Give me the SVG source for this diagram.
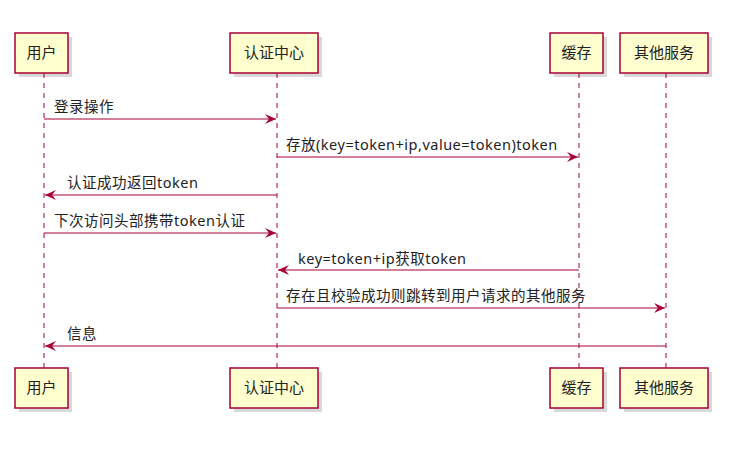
<svg xmlns="http://www.w3.org/2000/svg" width="736" height="449" viewBox="0 0 736 449">
<style>
.box{fill:#FEFECE;stroke:#A80036;stroke-width:1.5}
.sh{fill:#000;opacity:0.15}
.life{stroke:#A80036;stroke-width:1;stroke-dasharray:5,5}
.pt{font-family:"Noto Sans CJK SC",sans-serif;font-size:15px;fill:#222;text-anchor:middle}
.msg{stroke:#A80036;stroke-width:1;fill:none}
.lbl{font-family:"Noto Sans","Noto Sans CJK SC",sans-serif;font-size:14.5px;letter-spacing:0.5px;fill:#222}
</style>
<defs>
<marker id="a" markerWidth="12" markerHeight="10" refX="11" refY="5" orient="auto" markerUnits="userSpaceOnUse">
<path d="M0,0 L11,5 L0,10 L4,5 Z" fill="#A80036"/>
</marker>
</defs>
<rect width="736" height="449" fill="#fff"/>
<g id="lifelines">
<line class="life" x1="44" y1="73" x2="44" y2="368"/>
<line class="life" x1="277" y1="73" x2="277" y2="368"/>
<line class="life" x1="579" y1="73" x2="579" y2="368"/>
<line class="life" x1="666" y1="73" x2="666" y2="368"/>
</g>
<g id="p-user">
<rect class="sh" x="19" y="37" width="53" height="40"/><rect class="box" x="15" y="33" width="53" height="40"/><text class="pt" x="41.5" y="58">用户</text>
<rect class="sh" x="19" y="372" width="53" height="40"/><rect class="box" x="15" y="368" width="53" height="40"/><text class="pt" x="41.5" y="393">用户</text>
</g>
<g id="p-auth">
<rect class="sh" x="234" y="37" width="88" height="40"/><rect class="box" x="230" y="33" width="88" height="40"/><text class="pt" x="274" y="58">认证中心</text>
<rect class="sh" x="234" y="372" width="88" height="40"/><rect class="box" x="230" y="368" width="88" height="40"/><text class="pt" x="274" y="393">认证中心</text>
</g>
<g id="p-cache">
<rect class="sh" x="554" y="37" width="53" height="40"/><rect class="box" x="550" y="33" width="53" height="40"/><text class="pt" x="576.5" y="58">缓存</text>
<rect class="sh" x="554" y="372" width="53" height="40"/><rect class="box" x="550" y="368" width="53" height="40"/><text class="pt" x="576.5" y="393">缓存</text>
</g>
<g id="p-other">
<rect class="sh" x="624" y="37" width="88" height="40"/><rect class="box" x="620" y="33" width="88" height="40"/><text class="pt" x="664" y="58">其他服务</text>
<rect class="sh" x="624" y="372" width="88" height="40"/><rect class="box" x="620" y="368" width="88" height="40"/><text class="pt" x="664" y="393">其他服务</text>
</g>
<g id="connectors">
<line class="msg" x1="44" y1="119" x2="276" y2="119" marker-end="url(#a)"/>
<text class="lbl" x="54" y="112">登录操作</text>
<line class="msg" x1="277" y1="157" x2="578" y2="157" marker-end="url(#a)"/>
<text class="lbl" x="286" y="150">存放(key=token+ip,value=token)token</text>
<line class="msg" x1="277" y1="195" x2="45" y2="195" marker-end="url(#a)"/>
<text class="lbl" x="67" y="188">认证成功返回token</text>
<line class="msg" x1="44" y1="233" x2="276" y2="233" marker-end="url(#a)"/>
<text class="lbl" x="54" y="226">下次访问头部携带token认证</text>
<line class="msg" x1="579" y1="270" x2="278" y2="270" marker-end="url(#a)"/>
<text class="lbl" x="298" y="264">key=token+ip获取token</text>
<line class="msg" x1="277" y1="308" x2="665" y2="308" marker-end="url(#a)"/>
<text class="lbl" x="286" y="301">存在且校验成功则跳转到用户请求的其他服务</text>
<line class="msg" x1="666" y1="346" x2="45" y2="346" marker-end="url(#a)"/>
<text class="lbl" x="67" y="339">信息</text>
</g>
</svg>
